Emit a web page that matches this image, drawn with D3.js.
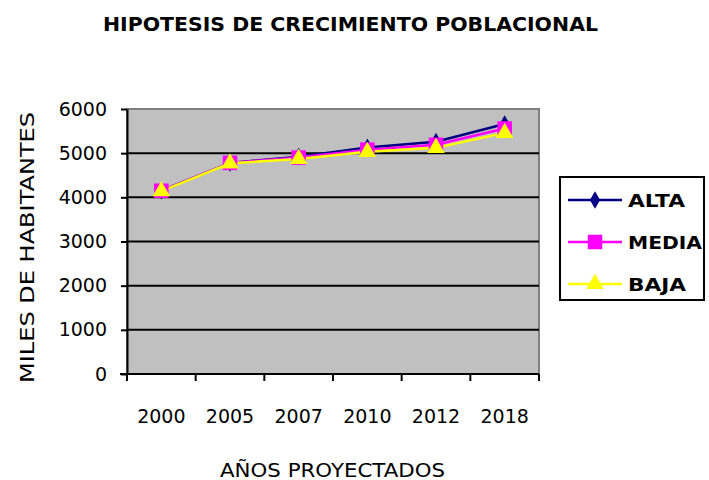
<!DOCTYPE html>
<html>
<head>
<meta charset="utf-8">
<script src="https://cdn.jsdelivr.net/npm/d3@7"></script>
<style>
body { margin: 0; background: #fff; }
text { font-family: "DejaVu Sans", sans-serif; }
</style>
</head>
<body>
<div id="chart"></div>
<script>
const years = ['2000', '2005', '2007', '2010', '2012', '2018']
const alta = [4150, 4780, 4920, 5130, 5260, 5660]
const media = [4150, 4780, 4900, 5080, 5190, 5560]
const baja = [4140, 4770, 4870, 5030, 5120, 5460]
const yTicks = [0, 1000, 2000, 3000, 4000, 5000, 6000]

const series = [
	{ name: 'ALTA', values: alta, color: '#000080', symbol: d3.symbolDiamond, size: 90, lw: 57 },
	{ name: 'MEDIA', values: media, color: '#FF00FF', symbol: d3.symbolSquare, size: 210, lw: 74 },
	{ name: 'BAJA', values: baja, color: '#FFFF00', symbol: d3.symbolTriangle, size: 135, lw: 58 }
]

const svg = d3.select('#chart')
	.append('svg')
	.attr('width', 709)
	.attr('height', 480)

const pLeft = 127, pRight = 539, pTop = 109, pBottom = 374

const x = d3.scaleBand()
	.domain(years)
	.range([pLeft, pRight])

const y = d3.scaleLinear()
	.domain([0, 6000])
	.range([pBottom, pTop])

// plot area
svg.append('rect')
	.attr('x', pLeft)
	.attr('y', pTop)
	.attr('width', pRight - pLeft)
	.attr('height', pBottom - pTop)
	.attr('fill', '#C0C0C0')
	.attr('stroke', '#808080')
	.attr('stroke-width', 2)

// grid lines
svg.append('g')
	.selectAll('line')
	.data(yTicks.filter(d => d > 0 && d < 6000))
	.enter()
	.append('line')
	.attr('x1', pLeft)
	.attr('x2', pRight)
	.attr('y1', d => y(d))
	.attr('y2', d => y(d))
	.attr('stroke', '#000')
	.attr('stroke-width', 2)

// y axis
const yAxis = svg.append('g')
	.attr('transform', `translate(${pLeft}, 0)`)
	.call(d3.axisLeft(y).tickValues(yTicks).tickFormat(d3.format('d'))
		.tickSize(6).tickSizeOuter(0).tickPadding(14))
yAxis.select('.domain').attr('stroke', '#000').attr('stroke-width', 2)
yAxis.selectAll('.tick line').attr('stroke', '#000').attr('stroke-width', 2)
yAxis.selectAll('.tick text')
	.attr('font-size', 19)
	.attr('fill', '#000')
	.style('font-family', '"DejaVu Sans", sans-serif')

// x axis: ticks at band boundaries
const xg = svg.append('g')
xg.append('line')
	.attr('x1', pLeft - 7)
	.attr('x2', pRight)
	.attr('y1', pBottom)
	.attr('y2', pBottom)
	.attr('stroke', '#000')
	.attr('stroke-width', 2)
xg.selectAll('.xtick')
	.data(years.map(d => x(d)).concat([pRight]))
	.enter()
	.append('line')
	.attr('x1', d => d)
	.attr('x2', d => d)
	.attr('y1', pBottom)
	.attr('y2', pBottom + 7)
	.attr('stroke', '#000')
	.attr('stroke-width', 2)
xg.selectAll('.xlabel')
	.data(years)
	.enter()
	.append('text')
	.attr('x', d => x(d) + x.bandwidth() / 2)
	.attr('y', 423)
	.attr('text-anchor', 'middle')
	.attr('font-size', 19)
	.text(d => d)

// series
const line = d3.line()
	.x((d, i) => x(years[i]) + x.bandwidth() / 2)
	.y(d => y(d))

series.forEach(s => {
	svg.append('path')
		.datum(s.values)
		.attr('d', line)
		.attr('fill', 'none')
		.attr('stroke', s.color)
		.attr('stroke-width', 2.5)
})
series.forEach(s => {
	svg.append('g')
		.selectAll('path')
		.data(s.values)
		.enter()
		.append('path')
		.attr('d', d3.symbol().type(s.symbol).size(s.size))
		.attr('transform', (d, i) => `translate(${x(years[i]) + x.bandwidth() / 2}, ${y(d)})`)
		.attr('fill', s.color)
})

// titles
svg.append('text')
	.attr('x', 103)
	.attr('y', 31)
	.attr('font-size', 19)
	.attr('font-weight', 'bold')
	.attr('textLength', 495)
	.attr('lengthAdjust', 'spacingAndGlyphs')
	.text('HIPOTESIS DE CRECIMIENTO POBLACIONAL')

svg.append('text')
	.attr('x', 220)
	.attr('y', 477)
	.attr('font-size', 19)
	.attr('textLength', 225)
	.attr('lengthAdjust', 'spacingAndGlyphs')
	.text('AÑOS PROYECTADOS')

svg.append('text')
	.attr('transform', 'translate(34, 383) rotate(-90)')
	.attr('font-size', 20)
	.attr('textLength', 271)
	.attr('lengthAdjust', 'spacingAndGlyphs')
	.text('MILES DE HABITANTES')

// legend
const lg = svg.append('g')
lg.append('rect')
	.attr('x', 560)
	.attr('y', 177)
	.attr('width', 144)
	.attr('height', 123)
	.attr('fill', '#fff')
	.attr('stroke', '#000')
	.attr('stroke-width', 2)

series.forEach((s, i) => {
	const ly = 200 + i * 42
	lg.append('line')
		.attr('x1', 568)
		.attr('x2', 622)
		.attr('y1', ly)
		.attr('y2', ly)
		.attr('stroke', s.color)
		.attr('stroke-width', 2.5)
	lg.append('path')
		.attr('d', d3.symbol().type(s.symbol).size(s.size))
		.attr('transform', `translate(595, ${ly})`)
		.attr('fill', s.color)
	lg.append('text')
		.attr('x', 628)
		.attr('y', ly + 7)
		.attr('font-size', 18)
		.attr('font-weight', 'bold')
		.attr('textLength', s.lw)
		.attr('lengthAdjust', 'spacingAndGlyphs')
		.text(s.name)
})
</script>
</body>
</html>
